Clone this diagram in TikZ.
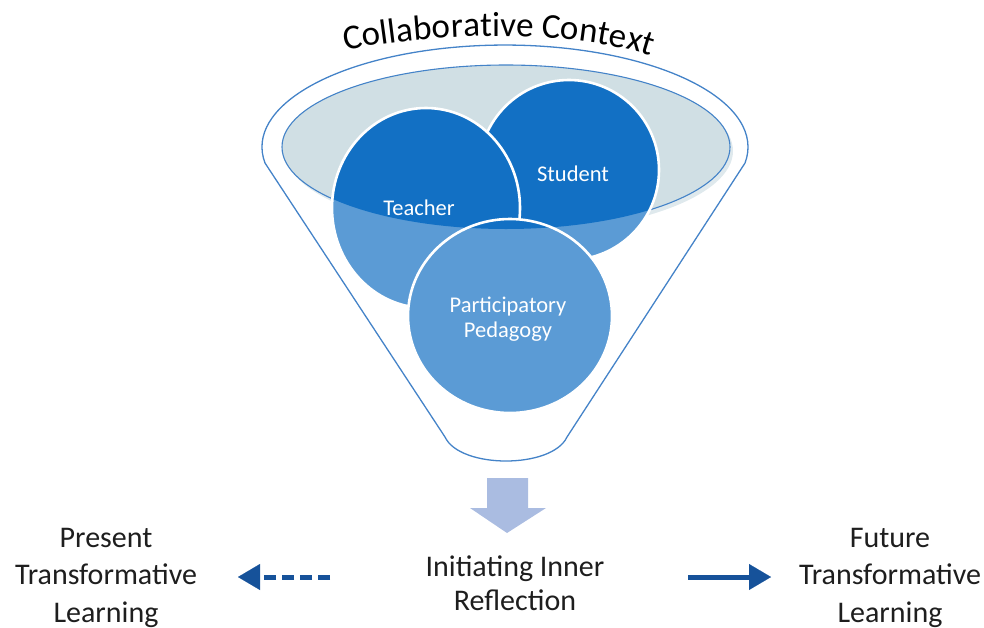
\documentclass[tikz,border=0pt]{standalone}
\usepackage{fontspec}
\setmainfont{Carlito}
\usetikzlibrary{arrows.meta,decorations.text}

\definecolor{rimblue}{HTML}{4483C8}
\definecolor{rimfill}{HTML}{D0DFE4}
\definecolor{rimshade}{HTML}{DFE9ED}
\definecolor{deepblue}{HTML}{1270C4}
\definecolor{softblue}{HTML}{5B9BD5}
\definecolor{flowblue}{HTML}{AABCE1}
\definecolor{navyarrow}{HTML}{16529A}
\definecolor{inkgray}{HTML}{1E1E1E}

% one bubble: light body, darker where it lies inside the funnel mouth, white rim
\newcommand\drawbubble[4]{%
  \fill[softblue] (#1,#2) ellipse[x radius=#3, y radius=#4];
  \begin{scope}
    \clip (506,147) ellipse[x radius=224, y radius=82];
    \fill[deepblue] (#1,#2) ellipse[x radius=#3, y radius=#4];
  \end{scope}
  \draw[bubbleedge] (#1,#2) ellipse[x radius=#3, y radius=#4];
}

\begin{document}
\begin{tikzpicture}[x=1pt, y=-1pt,
  funnelline/.style={rimblue, line width=1.3pt, line join=round},
  bubbleedge/.style={white, line width=2.6pt},
  bubbletext/.style={text=white, font=\fontsize{22.5}{25}\selectfont, inner sep=0pt, align=center},
  sidecaption/.style={text=inkgray, font=\fontsize{30}{37.5}\selectfont, inner sep=0pt, align=center},
  midcaption/.style={text=inkgray, font=\fontsize{30}{34}\selectfont, inner sep=0pt, align=center},
  flowarrow/.style={navyarrow, line width=5pt,
    -{Triangle[length=22pt, width=26pt, line width=0.1pt]}}
]
\useasboundingbox (0,0) rectangle (984,627);

% funnel body: wide rim on top, tapering sides, rounded spout
\draw[funnelline]
  (445,437) -- (265,163)
  arc[start angle=171, end angle=369, x radius=243, y radius=102]
  -- (567,437) .. controls (552,469) and (460,469) .. (445,437) -- cycle;

% funnel mouth
\fill[rimshade] (509,151) ellipse[x radius=224, y radius=82];
\filldraw[fill=rimfill, draw=rimblue, line width=1.1pt]
  (506,147) ellipse[x radius=224, y radius=82];

% the three bubbles, back to front
\drawbubble{569}{170}{90}{90}
\drawbubble{426}{208}{94}{100}
\drawbubble{510}{316}{102}{97}

% labels; a multi-line node sits on the baseline of its last line
\node[bubbletext, anchor=base] (teacher) at (419,215) {Teacher};
\node[bubbletext, anchor=base] (student) at (573,181) {Student};
\node[bubbletext, anchor=base] (pedagogy) at (508,337) {Participatory\\Pedagogy};

% title bent over the rim
\path[decorate, decoration={text along path, text align=center,
    text={|\fontsize{35}{40}\selectfont|Collaborative Context}}]
  (338,52) .. controls (440,30) and (580,30) .. (658,58);

% downward block arrow out of the spout
\fill[flowblue] (487,478) -- (528,478) -- (528,508) -- (546,508)
  -- (507,533) -- (470,508) -- (487,508) -- cycle;

% outcomes
\node[sidecaption, anchor=base] (present) at (106,622) {Present\\Transformative\\Learning};
\node[midcaption, anchor=base] (inner) at (515,610) {Initiating Inner\\Reflection};
\node[sidecaption, anchor=base] (future) at (890,622) {Future\\Transformative\\Learning};

\coordinate (presentend) at (238,577);
\coordinate (innerleft) at (330,577);
\coordinate (innerright) at (688,577);
\coordinate (futureend) at (771,577);

\draw[flowarrow, dash pattern=on 12pt off 6pt] (innerleft) -- (presentend);
\draw[flowarrow] (innerright) -- (futureend);
\end{tikzpicture}
\end{document}
